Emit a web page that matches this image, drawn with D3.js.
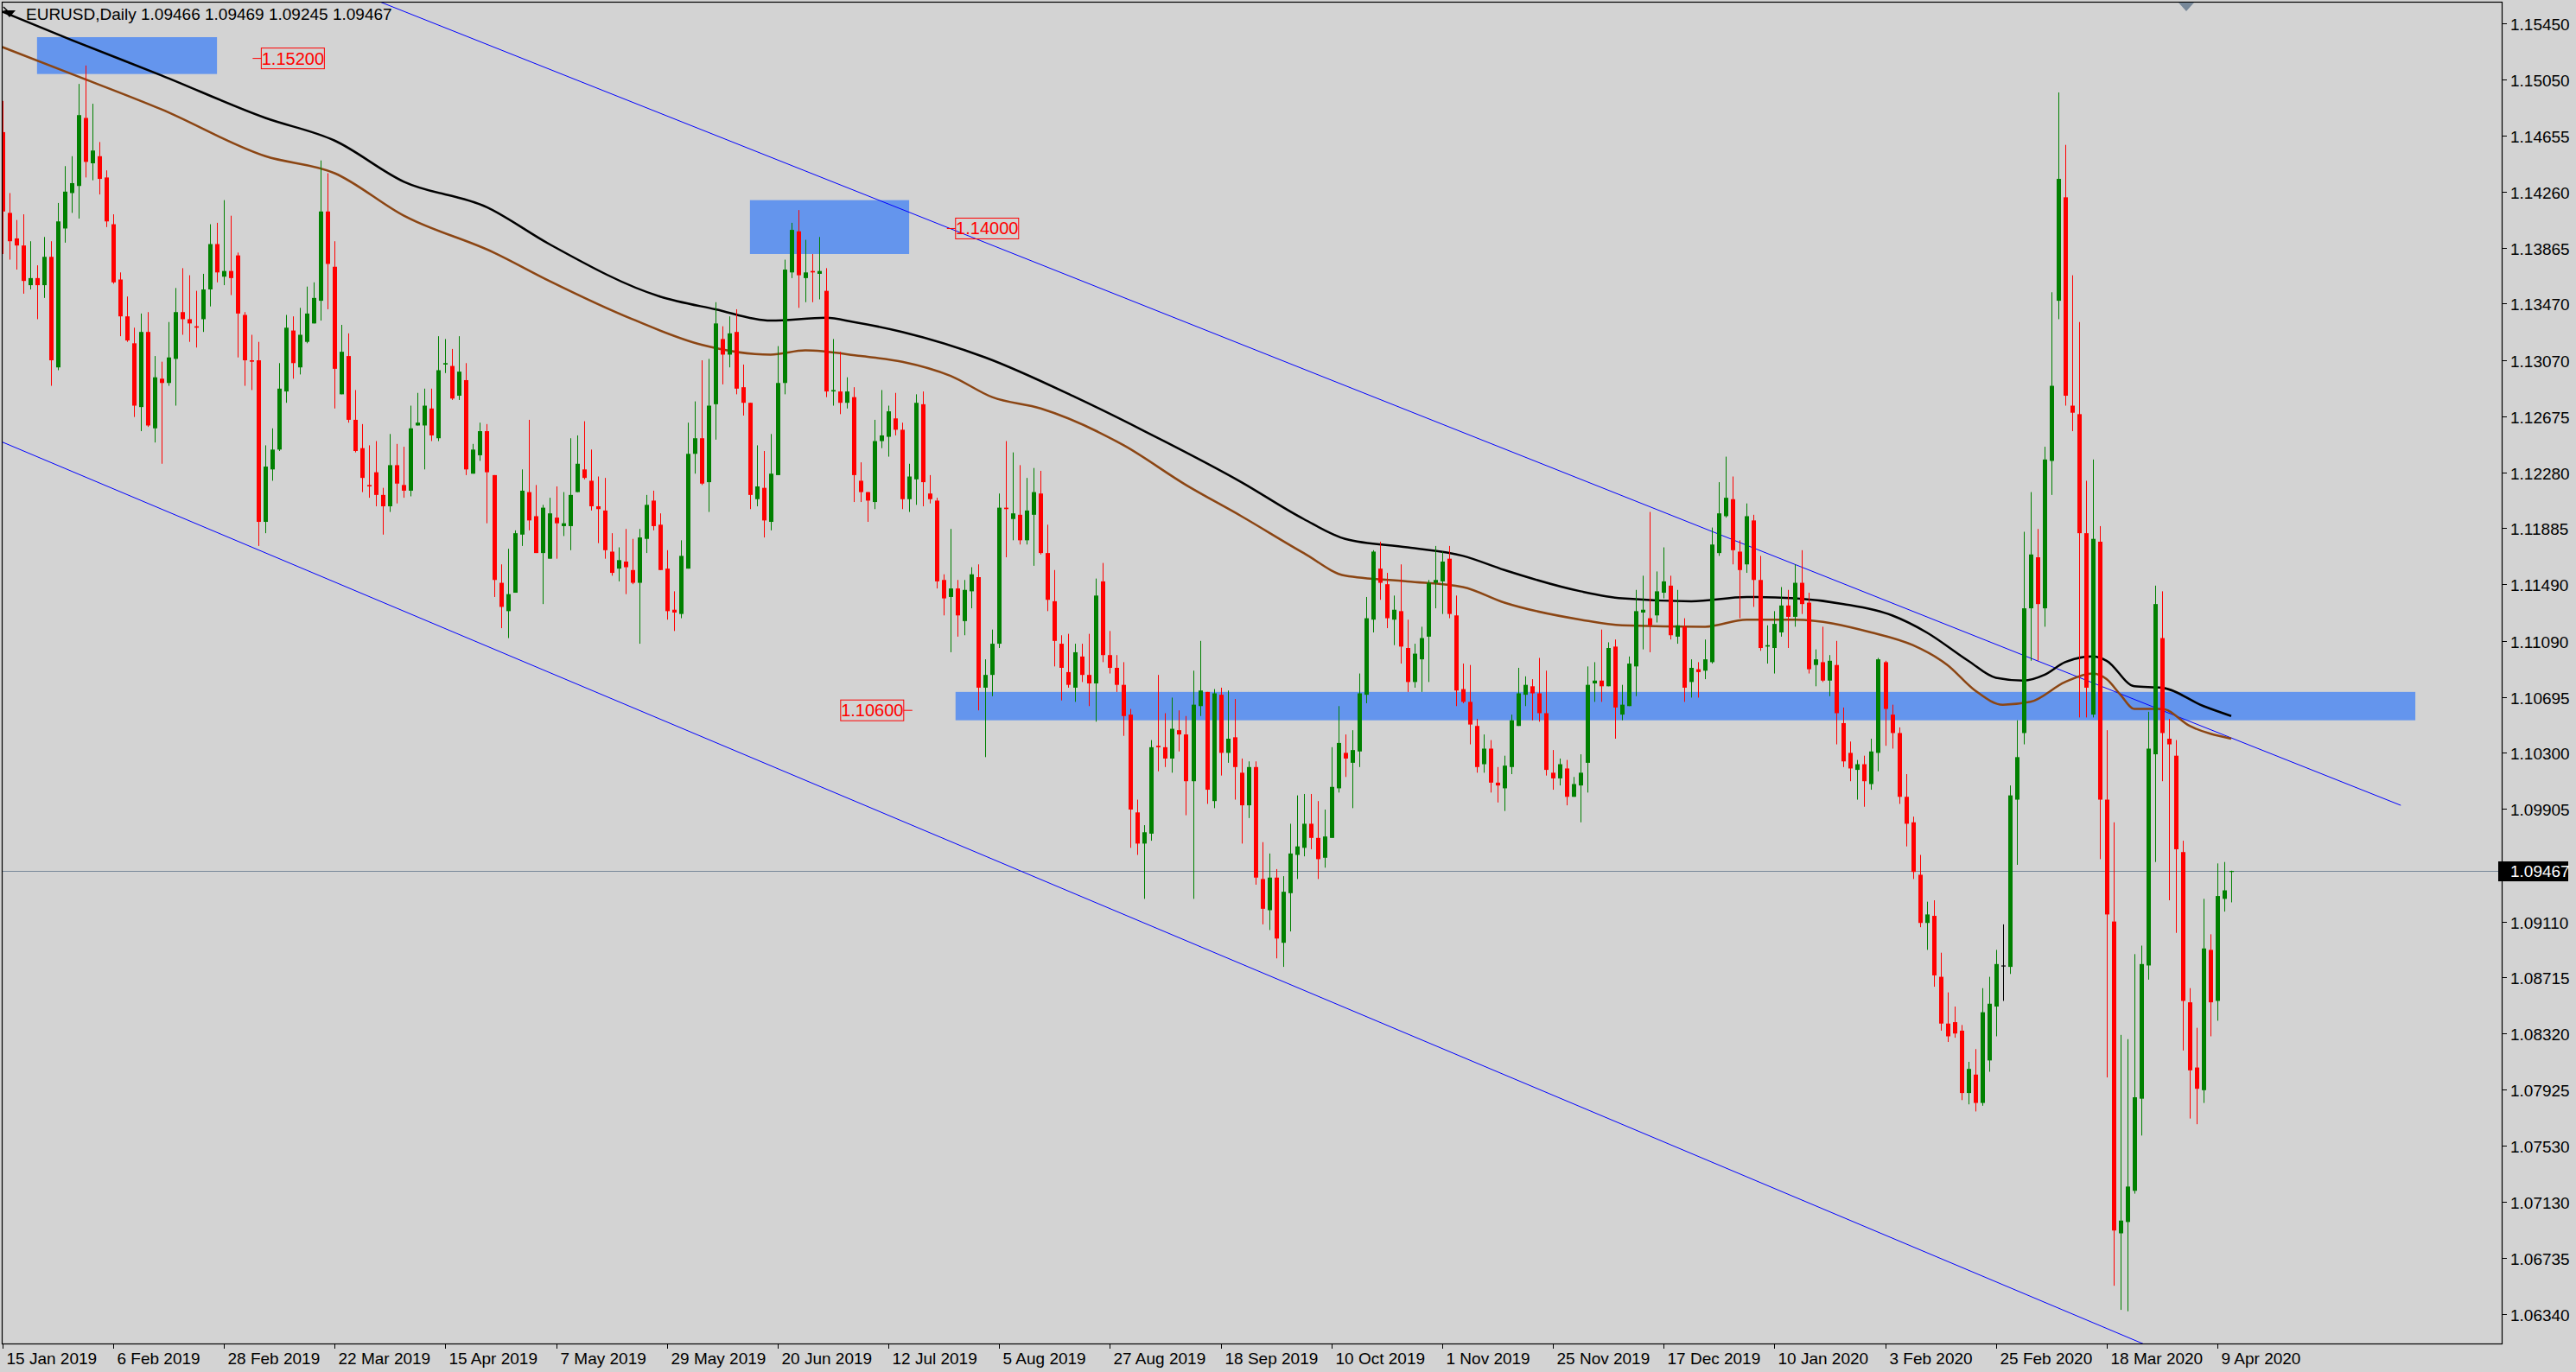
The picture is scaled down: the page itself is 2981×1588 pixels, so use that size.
<!DOCTYPE html>
<html><head><meta charset="utf-8">
<script src="https://cdn.jsdelivr.net/npm/d3@7"></script>
<style>html,body{margin:0;padding:0;background:#d3d3d3;overflow:hidden}svg{display:block}</style>
</head><body>
<script>
// ---- data ----
const symbol = "EURUSD,Daily";
const lastBar = [1.09466, 1.09469, 1.09245, 1.09467];
const dateLabels = ["15 Jan 2019","6 Feb 2019","28 Feb 2019","22 Mar 2019","15 Apr 2019","7 May 2019","29 May 2019","20 Jun 2019","12 Jul 2019","5 Aug 2019","27 Aug 2019","18 Sep 2019","10 Oct 2019","1 Nov 2019","25 Nov 2019","17 Dec 2019","10 Jan 2020","3 Feb 2020","25 Feb 2020","18 Mar 2020","9 Apr 2020"];
const priceTicks = [1.15450,1.15050,1.14655,1.14260,1.13865,1.13470,1.13070,1.12675,1.12280,1.11885,1.11490,1.11090,1.10695,1.10300,1.09905,1.09110,1.08715,1.08320,1.07925,1.07530,1.07130,1.06735,1.06340];
const opens = [1.1468,1.1411,1.1393,1.1388,1.1360,1.1365,1.1360,1.1380,1.1302,1.1400,1.1425,1.1430,1.1478,1.1446,1.1451,1.1436,1.1403,1.1364,1.1338,1.1319,1.1274,1.1327,1.1259,1.1294,1.1291,1.1308,1.1341,1.1336,1.1331,1.1336,1.1357,1.1389,1.1366,1.1370,1.1381,1.1339,1.1307,1.1307,1.1193,1.1230,1.1244,1.1285,1.1328,1.1302,1.1320,1.1333,1.1349,1.1412,1.1373,1.1283,1.1310,1.1265,1.1245,1.1219,1.1228,1.1212,1.1204,1.1233,1.1219,1.1215,1.1261,1.1261,1.1273,1.1252,1.1304,1.1303,1.1282,1.1293,1.1227,1.1240,1.1257,1.1226,1.1150,1.1130,1.1143,1.1184,1.1214,1.1197,1.1171,1.1167,1.1196,1.1190,1.1190,1.1214,1.1230,1.1222,1.1204,1.1201,1.1172,1.1160,1.1165,1.1159,1.1150,1.1181,1.1208,1.1191,1.1160,1.1131,1.1128,1.1160,1.1241,1.1252,1.1221,1.1276,1.1322,1.1311,1.1327,1.1288,1.1277,1.1209,1.1217,1.1193,1.1226,1.1291,1.1369,1.1398,1.1365,1.1370,1.1368,1.1356,1.1285,1.1285,1.1277,1.1281,1.1222,1.1214,1.1207,1.1250,1.1253,1.1266,1.1258,1.1209,1.1223,1.1276,1.1213,1.1208,1.1152,1.1140,1.1146,1.1123,1.1144,1.1154,1.1076,1.1085,1.1107,1.1203,1.1195,1.1198,1.1180,1.1198,1.1213,1.1171,1.1137,1.1107,1.1087,1.1076,1.1098,1.1085,1.1079,1.1151,1.1099,1.1090,1.1078,1.1057,1.0988,1.0966,1.0973,1.1035,1.1034,1.1026,1.1046,1.1043,1.1010,1.1063,1.1073,1.0996,1.1071,1.1030,1.1041,1.1016,1.0993,1.1020,1.0941,1.0919,1.0942,1.0896,1.0931,1.0958,1.0963,1.0980,1.0970,1.0956,1.0970,1.1005,1.1030,1.1023,1.1031,1.1071,1.1124,1.1160,1.1149,1.1124,1.1130,1.1104,1.1080,1.1096,1.1112,1.1150,1.1151,1.1167,1.1127,1.1075,1.1066,1.1049,1.1022,1.1033,1.1009,1.1005,1.1020,1.1049,1.1071,1.1077,1.1072,1.1058,1.1016,1.1012,1.1019,1.0999,1.1007,1.1023,1.1079,1.1081,1.1077,1.1105,1.1057,1.1063,1.1091,1.1129,1.1125,1.1127,1.1143,1.1148,1.1112,1.1119,1.1080,1.1089,1.1088,1.1094,1.1171,1.1197,1.1209,1.1172,1.1163,1.1194,1.1152,1.1105,1.1104,1.1115,1.1134,1.1126,1.1150,1.1136,1.1092,1.1094,1.1081,1.1092,1.1051,1.1030,1.1018,1.1022,1.1008,1.1030,1.1094,1.1057,1.1044,1.0999,1.0981,1.0944,1.0910,1.0915,1.0872,1.0839,1.0840,1.0834,1.0790,1.0803,1.0783,1.0813,1.0851,1.0880,1.0879,1.0997,1.1044,1.1132,1.1168,1.1132,1.1236,1.1349,1.1422,1.1275,1.1269,1.1185,1.1057,1.1179,1.0997,1.0911,1.0691,1.0699,1.0721,1.0786,1.0880,1.1029,1.1111,1.1040,1.1028,1.0960,1.0854,1.0808,1.0792,1.0891,1.0855,1.0927,1.09466];
const highs = [1.1490,1.1425,1.1406,1.1410,1.1391,1.1374,1.1394,1.1391,1.1418,1.1444,1.1451,1.1502,1.1515,1.1488,1.1461,1.1441,1.1410,1.1369,1.1352,1.1330,1.1340,1.1341,1.1310,1.1306,1.1334,1.1358,1.1372,1.1367,1.1356,1.1368,1.1403,1.1404,1.1420,1.1409,1.1383,1.1341,1.1325,1.1320,1.1247,1.1259,1.1305,1.1339,1.1338,1.1344,1.1359,1.1362,1.1448,1.1439,1.1391,1.1332,1.1326,1.1286,1.1262,1.1247,1.1250,1.1217,1.1255,1.1248,1.1246,1.1275,1.1284,1.1287,1.1287,1.1324,1.1322,1.1315,1.1324,1.1305,1.1248,1.1263,1.1262,1.1226,1.1163,1.1174,1.1187,1.1230,1.1265,1.1219,1.1205,1.1210,1.1218,1.1214,1.1252,1.1254,1.1264,1.1244,1.1225,1.1224,1.1185,1.1175,1.1188,1.1181,1.1188,1.1212,1.1215,1.1199,1.1173,1.1144,1.1180,1.1263,1.1278,1.1307,1.1308,1.1348,1.1331,1.1338,1.1343,1.1304,1.1277,1.1247,1.1243,1.1255,1.1317,1.1378,1.1404,1.1413,1.1392,1.1382,1.1394,1.1372,1.1322,1.1313,1.1295,1.1288,1.1235,1.1214,1.1265,1.1286,1.1275,1.1284,1.1263,1.1234,1.1283,1.1285,1.1226,1.1210,1.1156,1.1188,1.1152,1.1152,1.1161,1.1163,1.1096,1.1117,1.1213,1.1250,1.1242,1.1233,1.1224,1.1231,1.1229,1.1191,1.1159,1.1113,1.1114,1.1107,1.1107,1.1114,1.1153,1.1164,1.1116,1.1099,1.1094,1.1061,1.0997,1.0979,1.1039,1.1085,1.1058,1.1069,1.1060,1.1056,1.1088,1.1109,1.1073,1.1075,1.1076,1.1074,1.1068,1.1026,1.1024,1.1024,1.0967,1.0959,1.0948,1.0943,1.0980,1.1000,1.1001,1.1001,1.0996,1.0990,1.1034,1.1063,1.1043,1.1046,1.1086,1.1140,1.1173,1.1179,1.1157,1.1141,1.1163,1.1124,1.1107,1.1119,1.1152,1.1176,1.1172,1.1176,1.1141,1.1093,1.1092,1.1054,1.1043,1.1039,1.1020,1.1028,1.1057,1.1090,1.1084,1.1082,1.1097,1.1088,1.1032,1.1026,1.1025,1.1013,1.1029,1.1091,1.1094,1.1117,1.1108,1.1110,1.1078,1.1098,1.1145,1.1155,1.1200,1.1158,1.1175,1.1155,1.1145,1.1125,1.1096,1.1094,1.1110,1.1189,1.1221,1.1239,1.1225,1.1180,1.1206,1.1198,1.1169,1.1120,1.1130,1.1147,1.1145,1.1163,1.1173,1.1143,1.1103,1.1119,1.1099,1.1109,1.1062,1.1038,1.1025,1.1028,1.1040,1.1097,1.1095,1.1064,1.1048,1.1015,1.0985,1.0958,1.0925,1.0926,1.0889,1.0861,1.0851,1.0838,1.0812,1.0821,1.0864,1.0872,1.0891,1.0909,1.1007,1.1053,1.1186,1.1214,1.1188,1.1246,1.1355,1.1496,1.1459,1.1367,1.1334,1.1222,1.1237,1.1190,1.1046,1.0981,1.0831,1.0828,1.0888,1.0894,1.1059,1.1148,1.1144,1.1054,1.1039,1.0968,1.0864,1.0836,1.0927,1.0902,1.0952,1.0953,1.09469];
const lows = [1.1382,1.1378,1.1371,1.1354,1.1357,1.1336,1.1351,1.1289,1.1300,1.1390,1.1411,1.1407,1.1436,1.1434,1.1424,1.1401,1.1361,1.1324,1.1320,1.1267,1.1257,1.1260,1.1249,1.1234,1.1289,1.1275,1.1325,1.1320,1.1316,1.1327,1.1345,1.1362,1.1360,1.1353,1.1309,1.1289,1.1286,1.1176,1.1185,1.1222,1.1243,1.1277,1.1294,1.1297,1.1319,1.1333,1.1335,1.1343,1.1273,1.1283,1.1263,1.1242,1.1214,1.1210,1.1204,1.1184,1.1200,1.1206,1.1210,1.1211,1.1261,1.1230,1.1250,1.1250,1.1298,1.1279,1.1279,1.1226,1.1227,1.1236,1.1192,1.1140,1.1118,1.1111,1.1143,1.1176,1.1187,1.1171,1.1135,1.1167,1.1167,1.1183,1.1173,1.1214,1.1223,1.1201,1.1178,1.1167,1.1155,1.1151,1.1142,1.1149,1.1107,1.1171,1.1187,1.1159,1.1124,1.1116,1.1125,1.1160,1.1227,1.1219,1.1200,1.1251,1.1290,1.1302,1.1283,1.1268,1.1202,1.1204,1.1182,1.1187,1.1226,1.1283,1.1365,1.1344,1.1348,1.1348,1.1350,1.1281,1.1275,1.1269,1.1273,1.1207,1.1207,1.1193,1.1202,1.1245,1.1239,1.1254,1.1202,1.1200,1.1205,1.1204,1.1206,1.1146,1.1127,1.1101,1.1112,1.1113,1.1132,1.1060,1.1027,1.1070,1.1104,1.1168,1.1180,1.1177,1.1177,1.1162,1.1170,1.1130,1.1091,1.1067,1.1076,1.1066,1.1080,1.1063,1.1052,1.1094,1.1086,1.1073,1.1042,1.0963,1.0958,1.0927,1.0968,1.1017,1.1020,1.1016,1.1031,1.0986,1.0927,1.1056,1.0994,1.0991,1.1014,1.1023,1.0997,1.0966,1.0984,1.0937,1.0909,1.0905,1.0885,1.0879,1.0904,1.0941,1.0957,1.0962,1.0941,1.0949,1.0970,1.1002,1.1013,1.0991,1.1020,1.1065,1.1115,1.1138,1.1118,1.1106,1.1093,1.1073,1.1076,1.1073,1.1080,1.1132,1.1128,1.1125,1.1063,1.1065,1.1036,1.1016,1.1016,1.1002,1.0995,1.0989,1.1015,1.1049,1.1063,1.1053,1.1052,1.1014,1.1004,1.1007,1.0993,1.0999,1.0981,1.1002,1.1066,1.1066,1.1077,1.1040,1.1053,1.1063,1.1070,1.1103,1.1101,1.1122,1.1139,1.1110,1.1107,1.1066,1.1069,1.1069,1.1082,1.1093,1.1169,1.1196,1.1163,1.1125,1.1157,1.1133,1.1102,1.1093,1.1086,1.1112,1.1104,1.1119,1.1128,1.1086,1.1077,1.1080,1.1070,1.1036,1.1020,1.1010,1.0997,1.0992,1.1004,1.1017,1.1035,1.1033,1.0994,1.0964,1.0941,1.0907,1.0891,1.0865,1.0834,1.0826,1.0829,1.0785,1.0782,1.0777,1.0781,1.0805,1.0830,1.0855,1.0874,1.0951,1.1036,1.1095,1.1095,1.1119,1.1212,1.1336,1.1275,1.1257,1.1055,1.1055,1.1055,1.0955,1.0801,1.0654,1.0637,1.0636,1.0719,1.0760,1.0870,1.0953,1.1010,1.0926,1.0903,1.0820,1.0772,1.0768,1.0783,1.0830,1.0841,1.0918,1.09245];
const closes = [1.1412,1.1391,1.1388,1.1363,1.1365,1.1360,1.1380,1.1307,1.1405,1.1426,1.1432,1.1480,1.1447,1.1455,1.1435,1.1405,1.1362,1.1338,1.1321,1.1275,1.1327,1.1261,1.1295,1.1291,1.1309,1.1341,1.1336,1.1333,1.1330,1.1357,1.1389,1.1369,1.1370,1.1365,1.1340,1.1307,1.1306,1.1193,1.1232,1.1244,1.1287,1.1330,1.1305,1.1325,1.1340,1.1351,1.1412,1.1375,1.1301,1.1313,1.1265,1.1243,1.1224,1.1218,1.1212,1.1204,1.1233,1.1220,1.1215,1.1259,1.1263,1.1275,1.1254,1.1300,1.1305,1.1280,1.1299,1.1230,1.1244,1.1257,1.1228,1.1152,1.1133,1.1142,1.1185,1.1215,1.1194,1.1171,1.1203,1.1199,1.1192,1.1192,1.1212,1.1234,1.1224,1.1204,1.1202,1.1173,1.1157,1.1166,1.1161,1.1150,1.1182,1.1205,1.1190,1.1159,1.1130,1.1129,1.1169,1.1241,1.1252,1.1220,1.1275,1.1333,1.1311,1.1326,1.1287,1.1277,1.1212,1.1218,1.1194,1.1227,1.1291,1.1371,1.1399,1.1367,1.1369,1.1369,1.1370,1.1285,1.1286,1.1277,1.1285,1.1226,1.1214,1.1208,1.1250,1.1254,1.1271,1.1258,1.1209,1.1225,1.1277,1.1221,1.1209,1.1151,1.1139,1.1146,1.1127,1.1145,1.1156,1.1076,1.1085,1.1107,1.1203,1.1202,1.1199,1.1180,1.1201,1.1214,1.1171,1.1138,1.1109,1.1090,1.1078,1.1101,1.1085,1.1079,1.1141,1.1099,1.1090,1.1078,1.1056,1.0990,1.0966,1.0974,1.1034,1.1034,1.1026,1.1047,1.1043,1.1010,1.1064,1.1074,1.1004,1.1072,1.1030,1.1040,1.1020,1.0993,1.1020,1.0942,1.0920,1.0942,1.0899,1.0932,1.0959,1.0964,1.0980,1.0970,1.0955,1.0971,1.1006,1.1037,1.1026,1.1032,1.1072,1.1125,1.1172,1.1150,1.1125,1.1131,1.1105,1.1080,1.1100,1.1111,1.1150,1.1152,1.1165,1.1128,1.1074,1.1066,1.1050,1.1020,1.1033,1.1009,1.1007,1.1021,1.1053,1.1072,1.1078,1.1072,1.1058,1.1018,1.1012,1.1022,1.0999,1.1008,1.1016,1.1078,1.1081,1.1077,1.1104,1.1062,1.1064,1.1093,1.1130,1.1131,1.1120,1.1144,1.1151,1.1113,1.1120,1.1076,1.1090,1.1087,1.1096,1.1177,1.1199,1.1210,1.1173,1.1159,1.1197,1.1152,1.1104,1.1106,1.1121,1.1134,1.1126,1.1150,1.1135,1.1089,1.1096,1.1081,1.1095,1.1058,1.1024,1.1019,1.1022,1.1010,1.1031,1.1096,1.1061,1.1044,1.0999,1.0980,1.0946,1.0910,1.0916,1.0873,1.0839,1.0830,1.0832,1.0790,1.0807,1.0783,1.0847,1.0853,1.0881,1.0880,1.1000,1.1027,1.1132,1.1170,1.1135,1.1237,1.1289,1.1435,1.1282,1.1270,1.1185,1.1076,1.1181,1.0997,1.0916,1.0693,1.0700,1.0724,1.0787,1.0881,1.1033,1.1135,1.1044,1.1036,1.0962,1.0855,1.0806,1.0793,1.0892,1.0854,1.0929,1.0933,1.09467];
// moving averages, read at sampled bars
const maSlowBars = [0,10,23,38,48,58,70,79,95,103,111,119,123,130,142,155,165,179,188,194,203,211,217,228,234,244,252,259,266,273,278,284,288,292,295,298,302,304,308,312,318,322];
const maSlowVals = [1.1553,1.1533,1.1508,1.1478,1.1462,1.1433,1.1415,1.1389,1.1352,1.1343,1.1335,1.1337,1.1334,1.1327,1.1309,1.1281,1.1257,1.1221,1.1195,1.1181,1.1175,1.1169,1.1159,1.1144,1.1139,1.1137,1.1140,1.1139,1.1135,1.1127,1.1115,1.1095,1.1083,1.1081,1.1085,1.1094,1.1098,1.1095,1.1077,1.1076,1.1063,1.1056];
const maFastBars = [0,10,23,38,48,58,71,79,91,101,111,116,124,130,137,143,150,162,171,179,188,194,203,211,217,228,234,246,252,259,270,276,281,285,289,293,298,302,304,306,308,312,316,322];
const maFastVals = [1.1528,1.1509,1.1484,1.1451,1.1439,1.1409,1.1383,1.1363,1.1336,1.1318,1.1311,1.1314,1.1310,1.1306,1.1296,1.1281,1.1273,1.1247,1.1219,1.1197,1.1171,1.1155,1.1151,1.1147,1.1136,1.1124,1.1120,1.1119,1.1124,1.1124,1.1115,1.1106,1.1092,1.1074,1.1064,1.1066,1.1080,1.1086,1.1082,1.1071,1.1061,1.1061,1.1049,1.1040];
// channel trend lines (bar index, price)
const upperChannel = [[54.5,1.1560],[346.5,1.0993]];
const lowerChannel = [[-0.35,1.1250],[320,1.0591]];
// zones (bar range, price top/bottom) and their labels
const zones = [{from:5,to:31,top:1.1535,bottom:1.1509},{from:108,to:131,top:1.1420,bottom:1.1382},{from:137.7,to:348.6,top:1.1073,bottom:1.1053}];
const levelLabels = [{text:"1.15200",price:1.1520,bar:37.4,side:"left"},{text:"1.14000",price:1.1400,bar:137.7,side:"left"},{text:"1.10600",price:1.1060,bar:121.1,side:"right"}];

// ---- chart ----
const W=2981,H=1588, plotL=2, plotT=2, plotR=2895, plotB=1555;
const FONT='"Liberation Sans", Arial, sans-serif';
const svg=d3.select("body").append("svg").attr("width",W).attr("height",H);
svg.append("rect").attr("width",W).attr("height",H).attr("fill","#d3d3d3");
const x=d3.scaleLinear().domain([0,322]).range([2.8,2582]);
const y=d3.scaleLinear().domain([1.0634,1.1545]).range([1521,26.6]);
svg.append("clipPath").attr("id","pc").append("rect").attr("x",plotL).attr("y",plotT).attr("width",plotR-plotL).attr("height",plotB-plotT);
const g=svg.append("g").attr("clip-path","url(#pc)");

g.selectAll("rect.zone").data(zones).join("rect").attr("class","zone")
 .attr("x",d=>x(d.from)).attr("width",d=>x(d.to)-x(d.from))
 .attr("y",d=>y(d.top)).attr("height",d=>y(d.bottom)-y(d.top)).attr("fill","#6495ed");

g.append("line").attr("x1",plotL).attr("x2",plotR).attr("y1",Math.round(y(lastBar[3]))+0.5).attr("y2",Math.round(y(lastBar[3]))+0.5).attr("stroke","#778899").attr("stroke-width",1);

[upperChannel,lowerChannel].forEach(l=>{
 g.append("line").attr("x1",x(l[0][0])).attr("y1",y(l[0][1])).attr("x2",x(l[1][0])).attr("y2",y(l[1][1])).attr("stroke","#0000ff").attr("stroke-width",1);
});

const lineGen=d3.line().x(d=>x(d[0])).y(d=>y(d[1])).curve(d3.curveMonotoneX);
g.append("path").datum(maFastBars.map((b,i)=>[b,maFastVals[i]])).attr("d",lineGen).attr("fill","none").attr("stroke","#8b4513").attr("stroke-width",2.5);
g.append("path").datum(maSlowBars.map((b,i)=>[b,maSlowVals[i]])).attr("d",lineGen).attr("fill","none").attr("stroke","#000").attr("stroke-width",2.5);

const bars=d3.range(opens.length).map(i=>({i,o:opens[i],h:highs[i],l:lows[i],c:closes[i]}));
const col=d=>d.c>d.o?"#008000":(d.c<d.o?"#ff0000":"#000000");
const cg=g.append("g");
cg.selectAll("line.w").data(bars).join("line").attr("class","w")
 .attr("x1",d=>Math.round(x(d.i))+0.5).attr("x2",d=>Math.round(x(d.i))+0.5)
 .attr("y1",d=>y(d.h)).attr("y2",d=>y(d.l)).attr("stroke",col).attr("stroke-width",1);
cg.selectAll("rect.b").data(bars).join("rect").attr("class","b")
 .attr("x",d=>Math.round(x(d.i))-2).attr("width",5)
 .attr("y",d=>y(Math.max(d.o,d.c))).attr("height",d=>Math.max(1.2,Math.abs(y(d.o)-y(d.c))))
 .attr("fill",col);

levelLabels.forEach(d=>{
 const lx=x(d.bar), ly=y(d.price), w=73, h=24;
 g.append("rect").attr("x",lx).attr("y",ly-h/2).attr("width",w).attr("height",h).attr("fill","none").attr("stroke","#ff0000").attr("stroke-width",1);
 g.append("text").attr("x",lx+w/2).attr("y",ly+7).attr("text-anchor","middle").attr("font-family",FONT).attr("font-size",20).attr("fill","#ff0000").text(d.text);
 const tx=d.side==="left"?[lx-10,lx]:[lx+w,lx+w+10];
 g.append("line").attr("x1",tx[0]).attr("x2",tx[1]).attr("y1",ly).attr("y2",ly).attr("stroke","#ff0000");
});

svg.append("rect").attr("x",plotL+0.5).attr("y",plotT+0.5).attr("width",plotR-plotL).attr("height",plotB-plotT).attr("fill","none").attr("stroke","#000").attr("stroke-width",1.2);

const ya=svg.append("g");
priceTicks.forEach(p=>{
 const py=Math.round(y(p))+0.5;
 ya.append("line").attr("x1",plotR).attr("x2",plotR+6).attr("y1",py).attr("y2",py).attr("stroke","#000");
 ya.append("text").attr("x",plotR+10).attr("y",py+7).attr("font-family",FONT).attr("font-size",19).attr("fill","#000").text(p.toFixed(5));
});
const by=y(lastBar[3]);
ya.append("rect").attr("x",plotR-4).attr("y",by-11).attr("width",81).attr("height",23).attr("fill","#000");
ya.append("text").attr("x",plotR+10).attr("y",by+7).attr("font-family",FONT).attr("font-size",19).attr("fill","#fff").text(lastBar[3].toFixed(5));

const xa=svg.append("g");
dateLabels.forEach((t,k)=>{
 const px=Math.round(x(k*16))+0.5;
 xa.append("line").attr("x1",px).attr("x2",px).attr("y1",plotB).attr("y2",plotB+6).attr("stroke","#000");
 xa.append("text").attr("x",px+4).attr("y",plotB+24).attr("font-family",FONT).attr("font-size",19).attr("fill","#000").text(t);
});

svg.append("path").attr("d","M4,12 L18,12 L11,20 Z").attr("fill","#000");
svg.append("line").attr("x1",4).attr("y1",8).attr("x2",12).attr("y2",16).attr("stroke","#000").attr("stroke-width",1.5);
svg.append("text").attr("x",30).attr("y",23).attr("font-family",FONT).attr("font-size",19).attr("fill","#000")
 .text(symbol+"  "+lastBar.map(v=>v.toFixed(5)).join(" "));
svg.append("path").attr("d","M2521,3 L2539,3 L2530,13 Z").attr("fill","#778899");
</script>
</body></html>
